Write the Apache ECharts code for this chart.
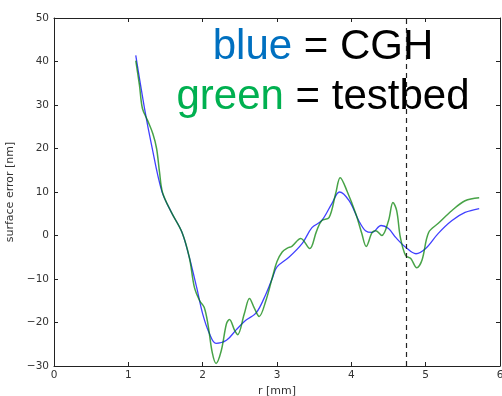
<!DOCTYPE html>
<html>
<head>
<meta charset="utf-8">
<script src="https://cdn.jsdelivr.net/npm/echarts@6/dist/echarts.min.js"></script>
<style>
  html, body { margin: 0; padding: 0; background: #fff; overflow: hidden; }
  #chart { width: 502px; height: 396px; }
</style>
</head>
<body>
<div id="chart"></div>
<script>
// Radial position r [mm] and surface error [nm] for the CGH measurement
const cghR = [1.10, 1.22, 1.31, 1.45, 1.58, 1.72, 1.82, 1.92, 2.00, 2.09, 2.18, 2.32, 2.45, 2.58, 2.72, 2.85, 2.94, 3.00, 3.16, 3.34, 3.47, 3.60, 3.74, 3.84, 3.97, 4.10, 4.19, 4.28, 4.40, 4.50, 4.60, 4.73, 4.87, 5.00, 5.17, 5.35, 5.53, 5.72];
const cghErr = [41.4, 29.0, 21.0, 10.2, 5.3, 0.8, -5, -12, -18, -22.5, -24.8, -24.1, -21.7, -19.5, -17.8, -13.5, -9.7, -7.2, -5, -1.8, 1.8, 3.4, 7.4, 10.0, 8, 3.4, 1.1, 0.7, 2.3, 1.6, -0.5, -2.7, -4.2, -3, 0.5, 3.4, 5.3, 6.2];

// Radial position r [mm] and surface error [nm] for the testbed measurement
const testbedR = [1.10, 1.15, 1.19, 1.26, 1.33, 1.38, 1.42, 1.46, 1.58, 1.72, 1.82, 1.89, 1.96, 2.02, 2.07, 2.13, 2.18, 2.25, 2.32, 2.36, 2.43, 2.47, 2.56, 2.63, 2.69, 2.76, 2.85, 2.94, 3.00, 3.07, 3.14, 3.20, 3.32, 3.44, 3.53, 3.60, 3.70, 3.79, 3.85, 3.94, 4.06, 4.14, 4.20, 4.28, 4.33, 4.41, 4.50, 4.56, 4.61, 4.66, 4.73, 4.80, 4.88, 4.95, 5.04, 5.17, 5.35, 5.53, 5.72];
const testbedErr = [40.2, 34.5, 29.2, 26.4, 23.4, 20, 14.5, 9.9, 5.3, 0.8, -5, -12, -15, -16.5, -20.3, -27, -29.4, -26.5, -20.3, -19.3, -21.8, -22.8, -18, -14.5, -16.5, -18.6, -15, -9.5, -6, -3.8, -2.9, -2.5, -0.7, -3, 0.9, 3.4, 4.1, 9.7, 13.3, 10.3, 5, 0.5, -2.5, 0.7, 1.1, 0, 3.4, 7.6, 5.7, -0.5, -4.6, -5.3, -7.4, -5.7, 0.7, 2.8, 5.7, 8, 8.7];

// Radius marked by the dashed vertical line
const markerR = 4.74;

// Axis ranges
const xMin = 0, xMax = 6, xStep = 1;
const yMin = -30, yMax = 50, yStep = 10;

const pairs = (xs, ys) => xs.map((x, i) => [x, ys[i]]);
const minusSign = v => String(v).replace('-', '\u2212');

const axisColor = '#222';
const tickFont = 'DejaVu Sans';

function baseAxis(extra) {
  return Object.assign({
    type: 'value',
    axisLine: { show: true, onZero: false, lineStyle: { color: axisColor, width: 1 } },
    axisTick: { show: true, inside: true, length: 4, lineStyle: { color: axisColor } },
    splitLine: { show: false }
  }, extra);
}

const chart = echarts.init(document.getElementById('chart'), null, { renderer: 'canvas' });

chart.setOption({
  animation: false,
  backgroundColor: '#fff',
  grid: { left: 54, right: 2, top: 18, bottom: 30, containLabel: false, outerBoundsMode: 'none' },
  xAxis: [
    baseAxis({
      min: xMin, max: xMax, interval: xStep, position: 'bottom',
      name: 'r [mm]', nameLocation: 'middle', nameGap: 17,
      nameTextStyle: { fontFamily: tickFont, fontSize: 11, color: '#333' },
      axisLabel: { margin: 4, fontFamily: tickFont, fontSize: 10.5, color: '#333', formatter: minusSign }
    }),
    baseAxis({
      min: xMin, max: xMax, interval: xStep, position: 'top',
      axisLabel: { show: false }
    })
  ],
  yAxis: [
    baseAxis({
      min: yMin, max: yMax, interval: yStep, position: 'left',
      name: 'surface error [nm]', nameLocation: 'middle', nameGap: 31, nameRotate: 90,
      nameTextStyle: { fontFamily: tickFont, fontSize: 11, color: '#333' },
      axisLabel: { margin: 5, fontFamily: tickFont, fontSize: 10.5, color: '#333', formatter: minusSign }
    }),
    baseAxis({
      min: yMin, max: yMax, interval: yStep, position: 'right',
      axisLabel: { show: false }
    })
  ],
  graphic: [
    {
      type: 'text', x: 323, y: 47, z: 0,
      style: {
        text: '{b|blue}{k| = CGH}',
        align: 'center', verticalAlign: 'middle',
        rich: {
          b: { fontFamily: 'Liberation Sans', fontSize: 42, fill: '#0070C0', color: '#0070C0' },
          k: { fontFamily: 'Liberation Sans', fontSize: 42, fill: '#000', color: '#000' }
        }
      }
    },
    {
      type: 'text', x: 323, y: 97, z: 0,
      style: {
        text: '{g|green}{k| = testbed}',
        align: 'center', verticalAlign: 'middle',
        rich: {
          g: { fontFamily: 'Liberation Sans', fontSize: 42, fill: '#00B050', color: '#00B050' },
          k: { fontFamily: 'Liberation Sans', fontSize: 42, fill: '#000', color: '#000' }
        }
      }
    }
  ],
  series: [
    {
      name: 'CGH', type: 'line', data: pairs(cghR, cghErr),
      smooth: 0.35, showSymbol: false, symbol: 'none',
      lineStyle: { color: 'rgba(0,0,255,0.75)', width: 1.3 },
      markLine: {
        silent: true, symbol: 'none', label: { show: false },
        lineStyle: { color: '#222', type: [5, 4], width: 1.2 },
        data: [{ xAxis: markerR }]
      }
    },
    {
      name: 'testbed', type: 'line', data: pairs(testbedR, testbedErr),
      smooth: 0.35, showSymbol: false, symbol: 'none',
      lineStyle: { color: 'rgba(0,128,0,0.72)', width: 1.5 }
    }
  ]
});
</script>
</body>
</html>
